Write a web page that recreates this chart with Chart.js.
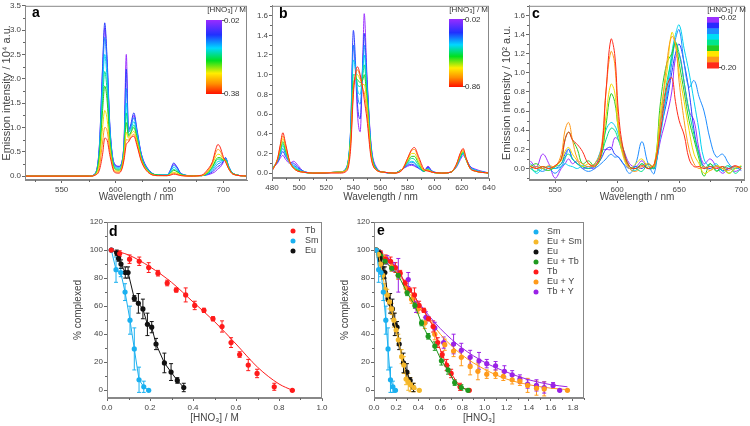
<!DOCTYPE html>
<html lang="en">
<head>
<meta charset="UTF-8">
<title>Nitrate complexation spectra</title>
<script src="https://cdn.jsdelivr.net/npm/chart.js"></script>
<style>
  body { margin: 0; background: #fff; }
  #wrap { position: relative; width: 750px; height: 426px; overflow: hidden; }
  canvas { position: absolute; }
</style>
</head>
<body>
<div id="wrap">
  <canvas id="pa" style="left:0;top:0;width:250px;height:205px" width="250" height="205"></canvas>
  <canvas id="pb" style="left:250px;top:0;width:250px;height:205px" width="250" height="205"></canvas>
  <canvas id="pc" style="left:500px;top:0;width:250px;height:205px" width="250" height="205"></canvas>
  <canvas id="pd" style="left:72px;top:212px;width:280px;height:214px" width="280" height="214"></canvas>
  <canvas id="pe" style="left:339px;top:212px;width:280px;height:214px" width="280" height="214"></canvas>
</div>
<script>
// ---- panel a : Eu spectra, [HNO3] 0.02 -> 0.38 M (S1 -> S9)
const A_WL = [516, 576, 581, 585, 588, 590, 592, 595, 599, 603, 606, 608, 610, 612, 614, 617, 620, 624, 630, 640, 648, 651, 654, 657, 661, 670, 680, 686, 690, 693, 695, 697, 700, 702, 705, 709, 722];
const A_S1 = [0, 0, 0.05, 0.6, 2.2, 3.05, 2.4, 0.9, 0.25, 0.2, 0.3, 0.8, 2.5, 0.9, 1.0, 1.25, 0.9, 0.45, 0.15, 0.02, 0.02, 0.12, 0.25, 0.18, 0.05, 0.01, 0.01, 0.03, 0.06, 0.1, 0.15, 0.18, 0.28, 0.38, 0.2, 0.05, 0];
const A_S2 = [0, 0, 0.05, 0.62, 2.25, 3.15, 2.5, 0.95, 0.25, 0.2, 0.3, 0.75, 2.2, 0.95, 1.05, 1.3, 0.95, 0.45, 0.15, 0.02, 0.02, 0.13, 0.27, 0.19, 0.05, 0.01, 0.01, 0.04, 0.09, 0.15, 0.2, 0.22, 0.3, 0.38, 0.2, 0.05, 0];
const A_S3 = [0, 0, 0.05, 0.55, 2.0, 2.85, 2.3, 0.9, 0.22, 0.18, 0.28, 0.7, 1.8, 0.95, 1.0, 1.2, 0.9, 0.42, 0.14, 0.02, 0.02, 0.11, 0.22, 0.16, 0.04, 0.01, 0.01, 0.05, 0.12, 0.2, 0.25, 0.27, 0.32, 0.37, 0.2, 0.05, 0];
const A_S4 = [0, 0, 0.04, 0.5, 1.8, 2.5, 2.05, 0.8, 0.2, 0.16, 0.25, 0.65, 1.5, 0.9, 0.95, 1.12, 0.85, 0.4, 0.13, 0.02, 0.02, 0.09, 0.18, 0.13, 0.04, 0.01, 0.01, 0.06, 0.15, 0.25, 0.3, 0.31, 0.33, 0.35, 0.19, 0.05, 0];
const A_S5 = [0, 0, 0.04, 0.45, 1.55, 2.15, 1.8, 0.72, 0.18, 0.14, 0.23, 0.6, 1.3, 0.85, 0.9, 1.05, 0.8, 0.38, 0.12, 0.02, 0.02, 0.07, 0.14, 0.1, 0.03, 0.01, 0.01, 0.07, 0.18, 0.3, 0.35, 0.35, 0.33, 0.34, 0.18, 0.05, 0];
const A_S6 = [0, 0, 0.03, 0.4, 1.35, 1.85, 1.6, 0.65, 0.16, 0.12, 0.22, 0.55, 1.1, 0.82, 0.88, 1.0, 0.76, 0.36, 0.11, 0.02, 0.01, 0.06, 0.12, 0.09, 0.03, 0.01, 0.01, 0.08, 0.2, 0.33, 0.38, 0.38, 0.33, 0.33, 0.17, 0.05, 0];
const A_S7 = [0, 0, 0.03, 0.28, 1.0, 1.35, 1.2, 0.55, 0.12, 0.1, 0.2, 0.48, 0.9, 0.78, 0.85, 0.92, 0.72, 0.34, 0.1, 0.01, 0.01, 0.04, 0.08, 0.06, 0.02, 0, 0.01, 0.1, 0.25, 0.4, 0.45, 0.44, 0.34, 0.32, 0.16, 0.04, 0];
const A_S8 = [0, 0, 0.02, 0.18, 0.7, 1.0, 0.95, 0.48, 0.1, 0.08, 0.17, 0.4, 0.75, 0.74, 0.8, 0.86, 0.66, 0.32, 0.09, 0.01, 0.01, 0.03, 0.06, 0.04, 0.01, 0, 0.01, 0.12, 0.28, 0.48, 0.55, 0.52, 0.37, 0.3, 0.15, 0.04, 0];
const A_S9 = [0, 0, 0.02, 0.12, 0.45, 0.78, 0.75, 0.4, 0.08, 0.06, 0.15, 0.35, 0.65, 0.7, 0.78, 0.82, 0.62, 0.3, 0.08, 0.01, 0.01, 0.02, 0.04, 0.03, 0.01, 0, 0.02, 0.15, 0.3, 0.55, 0.65, 0.6, 0.4, 0.3, 0.15, 0.04, 0];

// ---- panel b : Tb spectra, [HNO3] 0.02 -> 0.86 M
const B_WL = [480, 484, 486, 488, 490, 493, 496, 499, 503, 510, 530, 535, 538, 540, 542, 543, 545, 547, 548, 550, 553, 557, 562, 570, 576, 580, 583, 585, 588, 592, 595, 598, 605, 612, 616, 619, 621, 623, 626, 630, 640];
const B_S1 = [0.05, 0.1, 0.15, 0.18, 0.14, 0.1, 0.12, 0.08, 0.02, 0, 0.01, 0.05, 0.4, 1.3, 0.9, 0.6, 0.42, 1.2, 1.62, 1.0, 0.3, 0.06, 0.01, 0, 0.04, 0.07, 0.08, 0.07, 0.05, 0.02, 0.07, 0.02, 0, 0.01, 0.06, 0.14, 0.18, 0.14, 0.07, 0.04, 0];
const B_S2 = [0.05, 0.11, 0.17, 0.22, 0.17, 0.11, 0.1, 0.06, 0.02, 0, 0.01, 0.06, 0.45, 1.45, 1.0, 0.7, 0.55, 1.15, 1.42, 0.95, 0.28, 0.05, 0.01, 0, 0.04, 0.08, 0.09, 0.08, 0.05, 0.02, 0.06, 0.02, 0, 0.01, 0.07, 0.16, 0.2, 0.15, 0.07, 0.03, 0];
const B_S3 = [0.05, 0.12, 0.19, 0.25, 0.19, 0.11, 0.08, 0.05, 0.02, 0, 0.01, 0.06, 0.45, 1.3, 1.0, 0.8, 0.7, 1.1, 1.3, 0.9, 0.27, 0.05, 0.01, 0, 0.04, 0.09, 0.11, 0.1, 0.06, 0.02, 0.05, 0.02, 0, 0.01, 0.07, 0.16, 0.2, 0.15, 0.06, 0.03, 0];
const B_S4 = [0.04, 0.12, 0.2, 0.28, 0.21, 0.11, 0.07, 0.04, 0.01, 0, 0.01, 0.05, 0.4, 1.15, 1.0, 0.85, 0.8, 1.05, 1.2, 0.85, 0.25, 0.04, 0.01, 0, 0.04, 0.1, 0.12, 0.11, 0.06, 0.02, 0.04, 0.01, 0, 0.01, 0.07, 0.16, 0.2, 0.14, 0.06, 0.03, 0];
const B_S5 = [0.04, 0.13, 0.22, 0.3, 0.22, 0.11, 0.06, 0.03, 0.01, 0, 0.01, 0.05, 0.38, 1.0, 0.98, 0.9, 0.88, 1.0, 1.1, 0.8, 0.24, 0.04, 0.01, 0, 0.04, 0.11, 0.15, 0.14, 0.08, 0.02, 0.04, 0.01, 0, 0.01, 0.08, 0.17, 0.21, 0.14, 0.05, 0.02, 0];
const B_S6 = [0.03, 0.13, 0.23, 0.32, 0.24, 0.11, 0.05, 0.03, 0.01, 0, 0.01, 0.04, 0.35, 0.9, 0.96, 0.95, 0.92, 0.95, 1.0, 0.75, 0.22, 0.04, 0.01, 0, 0.04, 0.12, 0.17, 0.17, 0.1, 0.02, 0.03, 0.01, 0, 0.01, 0.08, 0.18, 0.22, 0.14, 0.05, 0.02, 0];
const B_S7 = [0.03, 0.14, 0.25, 0.35, 0.26, 0.11, 0.05, 0.02, 0.01, 0, 0.01, 0.04, 0.33, 0.85, 0.98, 1.0, 0.95, 0.9, 0.9, 0.7, 0.2, 0.03, 0.01, 0, 0.04, 0.13, 0.2, 0.2, 0.12, 0.03, 0.03, 0.01, 0, 0.01, 0.08, 0.19, 0.23, 0.15, 0.05, 0.02, 0];
const B_S8 = [0.02, 0.14, 0.27, 0.38, 0.28, 0.12, 0.05, 0.02, 0.01, 0, 0.01, 0.03, 0.3, 0.85, 1.02, 1.05, 0.98, 0.85, 0.82, 0.62, 0.18, 0.03, 0.01, 0, 0.04, 0.15, 0.23, 0.24, 0.15, 0.03, 0.03, 0.01, 0, 0.01, 0.09, 0.2, 0.24, 0.15, 0.05, 0.02, 0];
const B_S9 = [0.02, 0.14, 0.28, 0.41, 0.3, 0.12, 0.05, 0.02, 0.01, 0, 0, 0.02, 0.25, 0.8, 1.05, 1.08, 1.0, 0.85, 0.75, 0.55, 0.16, 0.03, 0.01, 0, 0.03, 0.15, 0.24, 0.26, 0.17, 0.04, 0.02, 0.01, 0, 0.01, 0.09, 0.21, 0.25, 0.16, 0.05, 0.02, 0];

// ---- panel c : Sm spectra, [HNO3] 0.02 -> 0.20 M
const C_WL = [530, 535, 540, 545, 550, 555, 558, 561, 564, 568, 572, 577, 582, 587, 591, 595, 598, 601, 605, 610, 615, 620, 625, 630, 635, 640, 644, 647, 650, 654, 658, 662, 666, 670, 675, 680, 685, 690, 695, 700];
const C_S1 = [0.08, 0.02, 0.15, 0.05, -0.1, 0, 0.05, 0.1, 0.05, 0.08, 0, 0.02, 0, 0.18, 0.2, 0.2, 0.32, 0.3, 0.2, 0.05, 0.02, 0.08, 0, 0.02, 0.3, 0.55, 0.8, 1.15, 1.2, 0.9, 0.6, 0.5, 0.2, 0.05, 0.1, 0.02, -0.05, 0, -0.03, 0];
const C_S2 = [0, 0.02, 0, 0.02, 0, 0.05, 0.15, 0.2, 0.1, 0.05, 0.02, 0, 0.02, 0.1, 0.2, 0.22, 0.15, 0.12, 0.05, 0, 0.02, 0, 0.05, 0, 0.4, 0.7, 1.0, 1.2, 1.3, 1.1, 0.8, 0.4, 0.15, 0.02, 0, 0.03, -0.02, 0, 0.02, -0.02];
const C_S3 = [0.05, 0, -0.03, 0, -0.05, 0.02, 0.1, 0.2, 0.1, 0.05, 0, -0.03, 0, 0.05, 0.1, 0.15, 0.12, 0.12, 0.05, -0.05, 0.05, 0.28, 0.05, -0.05, 0.5, 0.75, 1.1, 1.35, 1.45, 1.1, 0.85, 0.92, 0.75, 0.6, 0.3, 0.12, 0.15, 0.05, 0, 0.02];
const C_S4 = [0.03, -0.05, 0, 0.02, 0, 0.02, 0.05, 0.03, 0.02, 0, 0.03, 0.02, 0.05, 0.2, 0.4, 0.48, 0.45, 0.35, 0.15, 0, -0.02, 0.05, 0, 0.02, 0.35, 0.8, 1.2, 1.4, 1.5, 1.25, 1.0, 0.7, 0.4, 0.1, 0.02, 0.05, -0.03, 0.02, 0, 0.02];
const C_S5 = [0, -0.03, 0.02, 0, 0.02, 0.05, 0.12, 0.15, 0.1, 0.05, 0.02, 0, 0.05, 0.15, 0.3, 0.42, 0.4, 0.3, 0.15, 0.02, 0, -0.03, 0.05, 0, 0.5, 0.9, 1.15, 1.32, 1.2, 0.9, 0.6, 0.35, 0.15, 0, 0.05, -0.02, 0, 0.03, -0.05, 0];
const C_S6 = [0.02, 0.05, 0, -0.02, 0.02, 0.1, 0.3, 0.38, 0.3, 0.2, 0.05, 0.08, 0.02, 0.12, 0.45, 0.78, 0.7, 0.42, 0.2, 0.02, 0, 0.05, 0, 0.03, 0.7, 1.1, 1.2, 1.32, 1.1, 0.8, 0.5, 0.3, 0.1, -0.08, 0.05, -0.03, 0.02, -0.05, 0, 0.02];
const C_S7 = [0.03, 0, 0.02, 0, 0.03, 0.08, 0.18, 0.22, 0.15, 0.08, 0.02, 0.05, 0.02, 0.15, 0.55, 0.88, 0.8, 0.4, 0.12, 0, 0.05, 0.1, 0.02, 0.05, 0.6, 1.0, 1.42, 1.3, 1.0, 0.7, 0.4, 0.15, 0.05, -0.05, -0.02, 0.03, 0, -0.05, 0, 0.03];
const C_S8 = [0, 0.02, 0, 0.03, 0.02, 0.15, 0.4, 0.48, 0.3, 0.1, 0.05, 0.02, 0.05, 0.2, 0.8, 1.22, 1.1, 0.5, 0.15, 0, -0.03, 0.02, 0.05, 0.02, 0.5, 1.1, 1.38, 1.3, 0.9, 0.5, 0.2, 0.05, 0, 0.02, -0.02, 0.02, 0, -0.02, 0.02, 0];
const C_S9 = [0.02, 0, 0.02, 0, 0.03, 0.1, 0.3, 0.38, 0.3, 0.25, 0.18, 0.05, 0.03, 0.15, 0.8, 1.35, 1.2, 0.6, 0.2, 0.02, 0, 0.03, 0, 0.05, 0.4, 0.85, 0.95, 0.7, 0.5, 0.35, 0.1, 0.02, 0.02, 0, 0.02, 0, 0.02, 0, 0.03, 0];

// ---- panels d/e : % complexed vs [HNO3]
const TB_X = [0.02, 0.059, 0.105, 0.15, 0.194, 0.237, 0.28, 0.322, 0.366, 0.408, 0.451, 0.493, 0.535, 0.577, 0.617, 0.657, 0.698, 0.778, 0.862];
const TB_Y = [100, 97.5, 93.5, 92, 87.5, 83.5, 76.5, 71.5, 68, 60.5, 57, 51, 45.5, 34, 25.5, 18, 12, 2.5, 0];
const TB_E = [1, 2, 3, 3, 3.5, 2, 2, 1.5, 5, 3, 1.5, 1.5, 4, 3.5, 2, 4, 3, 2.5, 0.5];
const TB_FIT_X = [0.02, 0.1, 0.2, 0.3, 0.4, 0.5, 0.6, 0.7, 0.8, 0.862];
const TB_FIT_Y = [100, 96.5, 88, 77, 63, 49, 33, 16.5, 4.5, 0];

const SM_X = [0.02, 0.042, 0.064, 0.084, 0.107, 0.127, 0.149, 0.171, 0.194];
const SM_Y = [100, 86, 84, 70, 50, 29.5, 7.5, 2.5, 0];
const SM_E = [1, 9, 3, 6, 10, 15, 9, 4, 0.5];

const EU_X = [0.02, 0.045, 0.054, 0.065, 0.085, 0.098, 0.127, 0.146, 0.167, 0.188, 0.208, 0.228, 0.267, 0.298, 0.327, 0.357];
const EU_Y = [100, 98, 94, 90, 84, 84, 65.5, 62, 58, 47, 45, 33, 19.5, 13, 7, 2];
const EU_E = [1, 2, 2, 3, 4, 4, 2, 7, 7, 8, 4, 4, 7, 6, 2, 3];

const EUSM_X = [0.02, 0.04, 0.06, 0.08, 0.1, 0.12, 0.14, 0.16, 0.18, 0.2, 0.22, 0.25, 0.27, 0.29, 0.31, 0.33, 0.36, 0.41];
const EUSM_Y = [100, 97, 90, 82, 72, 68, 63, 58, 50, 43, 36, 24, 18, 8, 6, 4, 2, 0];
const EUSM_E = [1, 2, 3, 3, 4, 4, 5, 4, 5, 4, 4, 5, 6, 4, 6, 5, 3, 0.5];

const EUTB_X = [0.02, 0.06, 0.1, 0.16, 0.22, 0.3, 0.37, 0.43, 0.49, 0.55, 0.61, 0.67, 0.73, 0.79, 0.85];
const EUTB_Y = [100, 96, 92, 87, 82, 69.5, 60.5, 48, 38.5, 31.5, 21, 14.5, 5.5, 2, 0];
const EUTB_E = [1, 2, 2, 2, 2, 2, 2, 2, 2, 3, 3, 3, 2, 2, 0.5];

const EUY_X = [0.02, 0.06, 0.1, 0.16, 0.22, 0.29, 0.34, 0.4, 0.46, 0.55, 0.64, 0.72, 0.79, 0.87, 0.94, 1.02, 1.1, 1.17, 1.25, 1.32, 1.39, 1.47, 1.54, 1.75];
const EUY_Y = [100, 97, 94, 88, 82, 73, 65, 58, 48, 40, 32.5, 28, 23.5, 17, 13.5, 11.5, 11.5, 10, 7.5, 6.5, 3.5, 1.5, 1, 0];
const EUY_E = [1, 2, 2, 3, 3, 3, 3, 3, 4, 4, 4, 4, 6, 6, 6, 3, 3, 3, 3, 3, 5, 5, 5, 0.5];
const EUY_FIT_X = [0.02, 0.2, 0.4, 0.6, 0.8, 1.0, 1.2, 1.4, 1.6, 1.75];
const EUY_FIT_Y = [100, 85, 62, 40, 25, 15, 8, 4, 1.5, 0.5];

const TBY_X = [0.02, 0.06, 0.12, 0.18, 0.22, 0.31, 0.38, 0.47, 0.55, 0.63, 0.72, 0.79, 0.87, 0.95, 1.02, 1.1, 1.18, 1.25, 1.32, 1.39, 1.47, 1.54, 1.62, 1.68];
const TBY_Y = [100, 97, 93, 88, 82, 79, 59.5, 52, 44.5, 34, 33, 28.5, 23.5, 21, 19, 17.5, 13.5, 11, 8, 4.5, 3.5, 2, 3.5, 0];
const TBY_E = [1, 2, 3, 3, 12, 5, 4, 4, 4, 4, 7, 5, 5, 6, 3, 3, 4, 3, 3, 3, 4, 4, 2, 0.5];
const TBY_FIT_X = [0.02, 0.2, 0.4, 0.6, 0.8, 1.0, 1.2, 1.4, 1.6, 1.75];
const TBY_FIT_Y = [100, 86, 63, 44, 30, 20, 13, 7.5, 4, 2.5];

const SPEC_X_TICKS_A = [550, 600, 650, 700];
const SPEC_X_TICKS_B = [480, 500, 520, 540, 560, 580, 600, 620, 640];
const SPEC_X_TICKS_C = [550, 600, 650, 700];
const SPEC_Y_TICKS_A = [0, 0.5, 1, 1.5, 2, 2.5, 3, 3.5];
const SPEC_Y_TICKS_B = [0, 0.2, 0.4, 0.6, 0.8, 1, 1.2, 1.4, 1.6];
const SPEC_Y_TICKS_C = [0, 0.2, 0.4, 0.6, 0.8, 1, 1.2, 1.4, 1.6];
const FRAC_X_TICKS_D = [0, 0.2, 0.4, 0.6, 0.8, 1];
const FRAC_X_TICKS_E = [0, 0.2, 0.4, 0.6, 0.8, 1, 1.2, 1.4, 1.6, 1.8];
const FRAC_Y_TICKS = [0, 20, 40, 60, 80, 100, 120];

// violet (low acid) -> red (high acid)
const RAINBOW = ['#9b30ff', '#2a3cff', '#1e8cff', '#00d2f0', '#00e08a', '#2ccc20', '#f0dc00', '#ff9a1a', '#ff2a1a'];
const C_BLOCKS = ['#9b30ff', '#2a2aff', '#1e8cff', '#00dcf5', '#00e68c', '#22cc22', '#ffe600', '#ff9a1a', '#ff2a1a'];

const FONT = '"Liberation Sans", Arial, sans-serif';
Chart.defaults.font.family = FONT;
Chart.defaults.color = '#444';
Chart.defaults.animation = false;

const fmt1 = v => v.toFixed(1);
const fmt0 = v => String(Math.round(v));

function axes(c) {
  return {
    x: {
      type: 'linear', min: c.xMin, max: c.xMax,
      afterBuildTicks: s => { s.ticks = c.xTicks.map(v => ({ value: v })); },
      afterFit: s => { s.height = c.xH; },
      ticks: { font: { size: 8 }, padding: 2, maxRotation: 0, autoSkip: false, callback: c.xFmt },
      grid: { drawOnChartArea: false, tickLength: 3, color: '#666' },
      border: { color: '#888' },
      title: { display: true, text: c.xTitle, font: { size: 10 }, color: '#444', padding: { top: 1, bottom: 2 } }
    },
    y: {
      type: 'linear', min: c.yMin, max: c.yMax,
      afterBuildTicks: s => { s.ticks = c.yTicks.map(v => ({ value: v })); },
      afterFit: s => { s.width = c.yW; },
      ticks: { font: { size: 8 }, padding: 1, autoSkip: false, callback: c.yFmt },
      grid: { drawOnChartArea: false, tickLength: 3, color: '#666' },
      border: { color: '#888' },
      title: { display: !!c.yTitle, text: c.yTitle || '', font: { size: c.yTitleSize || 10 }, color: '#444', padding: { top: 0, bottom: 1 } }
    }
  };
}

function pts(xs, ys) { return xs.map((x, i) => ({ x: x, y: ys[i] })); }

// half-step minor ticks between the major ticks of each axis
function minorTicks(ctx, scale, horizontal, a) {
  const t = scale.ticks.map(k => k.value);
  if (t.length < 2) return;
  const step = (t[1] - t[0]) / 2;
  ctx.beginPath();
  for (let v = t[0] - step; v <= scale.max + 1e-9; v += step * 2) {
    if (v < scale.min) continue;
    const p = Math.round(scale.getPixelForValue(v)) + 0.5;
    if (horizontal) { ctx.moveTo(p, a.bottom); ctx.lineTo(p, a.bottom + 2); }
    else { ctx.moveTo(a.left, p); ctx.lineTo(a.left - 2, p); }
  }
  ctx.stroke();
}

// frame, panel letter, colour bar, legend, error bars
function deco(d) {
  return {
    id: 'deco' + d.letter,
    beforeDatasetsDraw(chart) {
      const { ctx, chartArea: a, scales } = chart;
      ctx.save();
      ctx.beginPath(); ctx.rect(a.left, a.top, a.width, a.height); ctx.clip();
      chart.data.datasets.forEach(ds => {
        if (!ds.errs) return;
        ctx.strokeStyle = ds.borderColor; ctx.lineWidth = 1;
        ds.data.forEach((p, i) => {
          const x = scales.x.getPixelForValue(p.x);
          const y1 = scales.y.getPixelForValue(p.y - ds.errs[i]);
          const y2 = scales.y.getPixelForValue(p.y + ds.errs[i]);
          ctx.beginPath();
          ctx.moveTo(x, y1); ctx.lineTo(x, y2);
          ctx.moveTo(x - 2, y1); ctx.lineTo(x + 2, y1);
          ctx.moveTo(x - 2, y2); ctx.lineTo(x + 2, y2);
          ctx.stroke();
        });
      });
      ctx.restore();
    },
    afterDraw(chart) {
      const { ctx, chartArea: a, scales } = chart;
      ctx.save();
      ctx.strokeStyle = '#888'; ctx.lineWidth = 1;
      ctx.strokeRect(a.left + 0.5, a.top + 0.5, a.width - 1, a.height - 1);
      ctx.strokeStyle = '#666';
      minorTicks(ctx, scales.x, true, a);
      minorTicks(ctx, scales.y, false, a);
      ctx.fillStyle = '#000';
      ctx.font = 'bold 14px ' + FONT;
      ctx.textBaseline = 'middle'; ctx.textAlign = 'left';
      ctx.fillText(d.letter, d.lx, d.ly);
      if (d.bar) {
        const b = d.bar;
        if (b.blocks) {
          const h = (b.y2 - b.y1) / b.blocks.length;
          b.blocks.forEach((c, i) => { ctx.fillStyle = c; ctx.fillRect(b.x, b.y1 + i * h, b.w, h + 0.5); });
        } else {
          const g = ctx.createLinearGradient(0, b.y1, 0, b.y2);
          g.addColorStop(0, '#9a2cff'); g.addColorStop(0.2, '#2030ff'); g.addColorStop(0.38, '#00d8ff');
          g.addColorStop(0.55, '#00e020'); g.addColorStop(0.72, '#ffee00'); g.addColorStop(0.86, '#ff9000');
          g.addColorStop(1, '#ff1000');
          ctx.fillStyle = g; ctx.fillRect(b.x, b.y1, b.w, b.y2 - b.y1);
        }
        ctx.strokeStyle = '#666';
        ctx.beginPath();
        ctx.moveTo(b.x + b.w, b.y1 + 0.5); ctx.lineTo(b.x + b.w + 3, b.y1 + 0.5);
        ctx.moveTo(b.x + b.w, b.y2 - 0.5); ctx.lineTo(b.x + b.w + 3, b.y2 - 0.5);
        ctx.stroke();
        ctx.fillStyle = '#333'; ctx.font = '8px ' + FONT;
        ctx.textAlign = 'left';
        ctx.fillText(b.top, b.x + b.w + 2, b.y1 + 1);
        ctx.fillText(b.bottom, b.x + b.w + 2, b.y2);
        ctx.textAlign = 'right';
        ctx.fillText('[HNO\u2083] / M', b.tx, b.ty);
      }
      if (d.legend) {
        const L = d.legend;
        ctx.font = '9px ' + FONT; ctx.textAlign = 'left';
        L.items.forEach((idx, i) => {
          const ds = chart.data.datasets[idx];
          const y = L.y + i * L.dy;
          ctx.fillStyle = ds.backgroundColor;
          ctx.beginPath(); ctx.arc(L.mx, y, 2.5, 0, Math.PI * 2); ctx.fill();
          ctx.fillStyle = '#444';
          ctx.fillText(ds.label, L.tx, y);
        });
      }
      ctx.restore();
    }
  };
}

function spectra(wl, series, colors, smooth) {
  // red (highest acid) first so it is drawn on top
  return series.map((s, i) => ({
    data: pts(wl, s), borderColor: colors[i], backgroundColor: colors[i],
    borderWidth: 1, pointRadius: 0, fill: false,
    cubicInterpolationMode: smooth ? 'monotone' : 'default', tension: smooth ? 0 : 0.4
  })).reverse();
}

function spectrumChart(id, c, series, colors, smooth, d) {
  new Chart(document.getElementById(id), {
    type: 'line',
    data: { datasets: spectra(c.wl, series, colors, smooth) },
    options: {
      responsive: false, animation: false,
      layout: { padding: c.pad },
      plugins: { legend: { display: false }, tooltip: { enabled: false } },
      scales: axes(c)
    },
    plugins: [deco(d)]
  });
}

spectrumChart('pa', {
  wl: A_WL, xMin: 516, xMax: 722, yMin: -0.08, yMax: 3.5,
  xTicks: SPEC_X_TICKS_A, yTicks: SPEC_Y_TICKS_A, xFmt: fmt0, yFmt: fmt1,
  xTitle: 'Wavelength / nm', yTitle: 'Emission intensity / 10\u2074 a.u.', yTitleSize: 11,
  yW: 25, xH: 25, pad: { left: 0, right: 3, top: 3, bottom: 0 }
}, [A_S1, A_S2, A_S3, A_S4, A_S5, A_S6, A_S7, A_S8, A_S9], RAINBOW, true,
{ letter: 'a', lx: 32, ly: 13, bar: { x: 206, w: 16, y1: 20, y2: 94, top: '0.02', bottom: '0.38', tx: 246, ty: 10 } });

spectrumChart('pb', {
  wl: B_WL, xMin: 480, xMax: 640, yMin: -0.05, yMax: 1.7,
  xTicks: SPEC_X_TICKS_B, yTicks: SPEC_Y_TICKS_B, xFmt: fmt0, yFmt: fmt1,
  xTitle: 'Wavelength / nm', yTitle: '',
  yW: 22, xH: 27, pad: { left: 0, right: 11, top: 4, bottom: 0 }
}, [B_S1, B_S2, B_S3, B_S4, B_S5, B_S6, B_S7, B_S8, B_S9], RAINBOW, true,
{ letter: 'b', lx: 29, ly: 14, bar: { x: 199, w: 14, y1: 19, y2: 87, top: '0.02', bottom: '0.86', tx: 238, ty: 10 } });

spectrumChart('pc', {
  wl: C_WL, xMin: 529, xMax: 703, yMin: -0.12, yMax: 1.7,
  xTicks: SPEC_X_TICKS_C, yTicks: SPEC_Y_TICKS_C, xFmt: fmt0, yFmt: fmt1,
  xTitle: 'Wavelength / nm', yTitle: 'Emission intensity / 10\u00b2 a.u.', yTitleSize: 11,
  yW: 29, xH: 25, pad: { left: 0, right: 5, top: 4, bottom: 0 }
}, [C_S1, C_S2, C_S3, C_S4, C_S5, C_S6, C_S7, C_S8, C_S9], RAINBOW, false,
{ letter: 'c', lx: 32, ly: 14, bar: { x: 207, w: 12, y1: 17, y2: 68, top: '0.02', bottom: '0.20', tx: 246, ty: 10, blocks: C_BLOCKS } });

// scatter with error bars
const COL = { tb: '#ff1a1a', sm: '#1ab0f0', eu: '#111111', eusm: '#f5b82a', eutb: '#1f9a1f', euy: '#ff9a1a', tby: '#9a22e6' };

function sc(label, xs, ys, errs, color, line) {
  return { label: label, data: pts(xs, ys), errs: errs, borderColor: color, backgroundColor: color,
    pointRadius: 2.6, pointBorderWidth: 0, showLine: !!line, borderWidth: 1, tension: 0 };
}
function fit(xs, ys, color) {
  return { label: '', data: pts(xs, ys), borderColor: color, backgroundColor: color,
    pointRadius: 0, showLine: true, borderWidth: 1, cubicInterpolationMode: 'monotone' };
}

new Chart(document.getElementById('pd'), {
  type: 'scatter',
  data: { datasets: [
    sc('Tb', TB_X, TB_Y, TB_E, COL.tb, false),
    sc('Sm', SM_X, SM_Y, SM_E, COL.sm, true),
    sc('Eu', EU_X, EU_Y, EU_E, COL.eu, true),
    fit(TB_FIT_X, TB_FIT_Y, COL.tb)
  ] },
  options: {
    responsive: false, animation: false,
    layout: { padding: { left: 0, right: 30, top: 10, bottom: 0 } },
    plugins: { legend: { display: false }, tooltip: { enabled: false } },
    scales: axes({ xMin: 0, xMax: 1, yMin: -5.5, yMax: 120, xTicks: FRAC_X_TICKS_D, yTicks: FRAC_Y_TICKS,
      xFmt: fmt1, yFmt: fmt0, xTitle: '[HNO\u2083] / M', yTitle: '% complexed', yW: 35, xH: 28 })
  },
  plugins: [deco({ letter: 'd', lx: 37, ly: 20, legend: { items: [0, 1, 2], mx: 221, tx: 233, y: 19, dy: 10 } })]
});

new Chart(document.getElementById('pe'), {
  type: 'scatter',
  data: { datasets: [
    sc('Sm', SM_X, SM_Y, SM_E, COL.sm, true),
    sc('Eu + Sm', EUSM_X, EUSM_Y, EUSM_E, COL.eusm, true),
    sc('Eu', EU_X, EU_Y, EU_E, COL.eu, true),
    sc('Eu + Tb', EUTB_X, EUTB_Y, EUTB_E, COL.eutb, true),
    sc('Tb', TB_X, TB_Y, TB_E, COL.tb, true),
    sc('Eu + Y', EUY_X, EUY_Y, EUY_E, COL.euy, false),
    sc('Tb + Y', TBY_X, TBY_Y, TBY_E, COL.tby, false),
    fit(EUY_FIT_X, EUY_FIT_Y, COL.euy),
    fit(TBY_FIT_X, TBY_FIT_Y, COL.tby)
  ] },
  options: {
    responsive: false, animation: false,
    layout: { padding: { left: 0, right: 35, top: 10, bottom: 0 } },
    plugins: { legend: { display: false }, tooltip: { enabled: false } },
    scales: axes({ xMin: 0, xMax: 1.9, yMin: -5.5, yMax: 120, xTicks: FRAC_X_TICKS_E, yTicks: FRAC_Y_TICKS,
      xFmt: fmt1, yFmt: fmt0, xTitle: '[HNO\u2083]', yTitle: '% complexed', yW: 35, xH: 28 })
  },
  plugins: [deco({ letter: 'e', lx: 38, ly: 19, legend: { items: [0, 1, 2, 3, 4, 5, 6], mx: 197, tx: 208, y: 20, dy: 10 } })]
});
</script>
</body>
</html>
